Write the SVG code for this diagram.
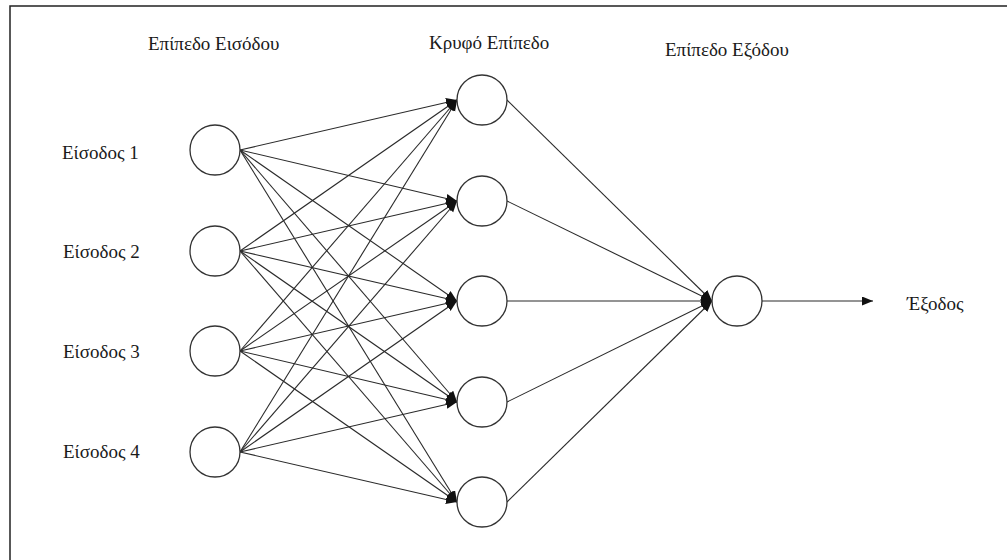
<svg xmlns="http://www.w3.org/2000/svg" width="1007" height="560" viewBox="0 0 1007 560">
<style>
.lbl{font-family:"Liberation Serif","Times New Roman","DejaVu Serif",serif;font-size:19px;fill:#1a1a1a}
.node{fill:#fff;stroke:#333;stroke-width:1.3}
.edge{stroke:#2a2a2a;stroke-width:1.1;fill:none;marker-end:url(#ah)}
</style>
<defs>
<marker id="ah" markerUnits="userSpaceOnUse" markerWidth="12" markerHeight="10" refX="11" refY="4.5" orient="auto">
<path d="M0,0 L11,4.5 L0,9 z" fill="#111"/>
</marker>
</defs>
<rect x="0" y="0" width="1007" height="560" fill="#fff"/>
<rect x="10" y="6" width="1100" height="700" fill="none" stroke="#222" stroke-width="1.5"/>
<text class="lbl" x="148" y="50">Επίπεδο Εισόδου</text>
<text class="lbl" x="429" y="49">Κρυφό Επίπεδο</text>
<text class="lbl" x="665" y="56">Επίπεδο Εξόδου</text>
<g id="connectors">
<line class="edge" x1="240" y1="150" x2="457" y2="100"/>
<line class="edge" x1="240" y1="150" x2="457" y2="201"/>
<line class="edge" x1="240" y1="150" x2="457" y2="301"/>
<line class="edge" x1="240" y1="150" x2="457" y2="402"/>
<line class="edge" x1="240" y1="150" x2="457" y2="502"/>
<line class="edge" x1="240" y1="251" x2="457" y2="100"/>
<line class="edge" x1="240" y1="251" x2="457" y2="201"/>
<line class="edge" x1="240" y1="251" x2="457" y2="301"/>
<line class="edge" x1="240" y1="251" x2="457" y2="402"/>
<line class="edge" x1="240" y1="251" x2="457" y2="502"/>
<line class="edge" x1="240" y1="351" x2="457" y2="100"/>
<line class="edge" x1="240" y1="351" x2="457" y2="201"/>
<line class="edge" x1="240" y1="351" x2="457" y2="301"/>
<line class="edge" x1="240" y1="351" x2="457" y2="402"/>
<line class="edge" x1="240" y1="351" x2="457" y2="502"/>
<line class="edge" x1="240" y1="452" x2="457" y2="100"/>
<line class="edge" x1="240" y1="452" x2="457" y2="201"/>
<line class="edge" x1="240" y1="452" x2="457" y2="301"/>
<line class="edge" x1="240" y1="452" x2="457" y2="402"/>
<line class="edge" x1="240" y1="452" x2="457" y2="502"/>
<line class="edge" x1="507" y1="100" x2="712" y2="301"/>
<line class="edge" x1="507" y1="201" x2="712" y2="301"/>
<line class="edge" x1="507" y1="301" x2="712" y2="301"/>
<line class="edge" x1="507" y1="402" x2="712" y2="301"/>
<line class="edge" x1="507" y1="502" x2="712" y2="301"/>
<line class="edge" x1="762" y1="301" x2="873" y2="301"/>
</g>
<g id="in1"><circle class="node" cx="215" cy="150" r="25"/><text class="lbl" x="62" y="159">Είσοδος 1</text></g>
<g id="in2"><circle class="node" cx="215" cy="251" r="25"/><text class="lbl" x="63" y="258">Είσοδος 2</text></g>
<g id="in3"><circle class="node" cx="215" cy="351" r="25"/><text class="lbl" x="63" y="358">Είσοδος 3</text></g>
<g id="in4"><circle class="node" cx="215" cy="452" r="25"/><text class="lbl" x="63" y="458">Είσοδος 4</text></g>
<g id="h1"><circle class="node" cx="482" cy="100" r="25"/></g>
<g id="h2"><circle class="node" cx="482" cy="201" r="25"/></g>
<g id="h3"><circle class="node" cx="482" cy="301" r="25"/></g>
<g id="h4"><circle class="node" cx="482" cy="402" r="25"/></g>
<g id="h5"><circle class="node" cx="482" cy="502" r="25"/></g>
<g id="out"><circle class="node" cx="737" cy="301" r="25"/></g>
<g id="outlabel"><text class="lbl" x="907" y="310">Έξοδος</text></g>
</svg>
